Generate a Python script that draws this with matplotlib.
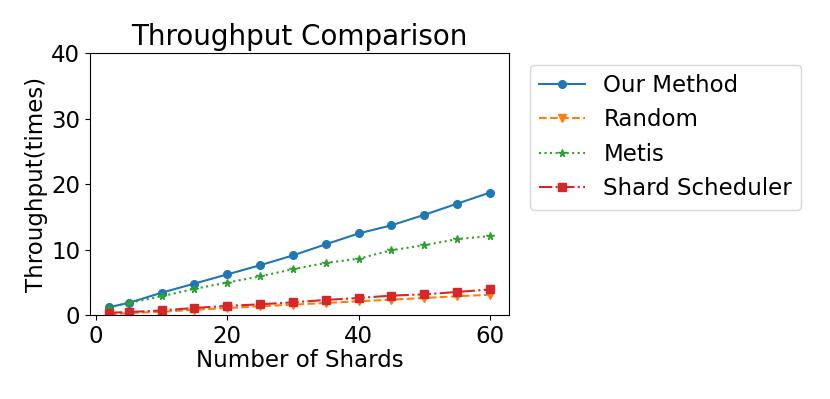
import numpy as np
import matplotlib.pyplot as plt

shards = [2, 5, 10, 15, 20, 25, 30, 35, 40, 45, 50, 55, 60]
our_method = [1.2, 1.85, 3.4, 4.8, 6.2, 7.6, 9.1, 10.8, 12.45, 13.7, 15.3, 17.0, 18.7]
random_ = [0.1, 0.3, 0.5, 0.8, 1.07, 1.33, 1.58, 1.84, 2.1, 2.35, 2.6, 2.86, 3.1]
metis = [1.1, 1.85, 2.85, 4.0, 4.95, 5.9, 7.0, 7.95, 8.6, 9.9, 10.65, 11.6, 12.05]
shard_scheduler = [0.35, 0.45, 0.7, 1.07, 1.4, 1.63, 1.94, 2.3, 2.6, 2.96, 3.16, 3.52, 3.9]

fig = plt.figure(figsize=(8.3, 3.99), dpi=100)
ax = fig.add_axes([0.1084, 0.2105, 0.5049, 0.6565])

ax.plot(shards, our_method, '-o', color='tab:blue', markersize=5.5, label='Our Method')
ax.plot(shards, random_, '--v', color='tab:orange', markersize=5.5, label='Random')
ax.plot(shards, metis, ':*', color='tab:green', markersize=5.5, label='Metis')
ax.plot(shards, shard_scheduler, '-.s', color='tab:red', markersize=5.5, label='Shard Scheduler')

ax.set_ylim(0, 40)
ax.set_yticks([0, 10, 20, 30, 40])
ax.set_xticks([0, 20, 40, 60])
ax.tick_params(labelsize=16.5)
ax.set_xlabel('Number of Shards', fontsize=16.5, labelpad=1)
ax.set_ylabel('Throughput(times)', fontsize=16.5, labelpad=2)
ax.set_title('Throughput Comparison', fontsize=20)

ax.legend(loc='upper left', bbox_to_anchor=(1.05, 0.955), borderaxespad=0, fontsize=16.5)

fig.savefig('out.png', dpi=100)
